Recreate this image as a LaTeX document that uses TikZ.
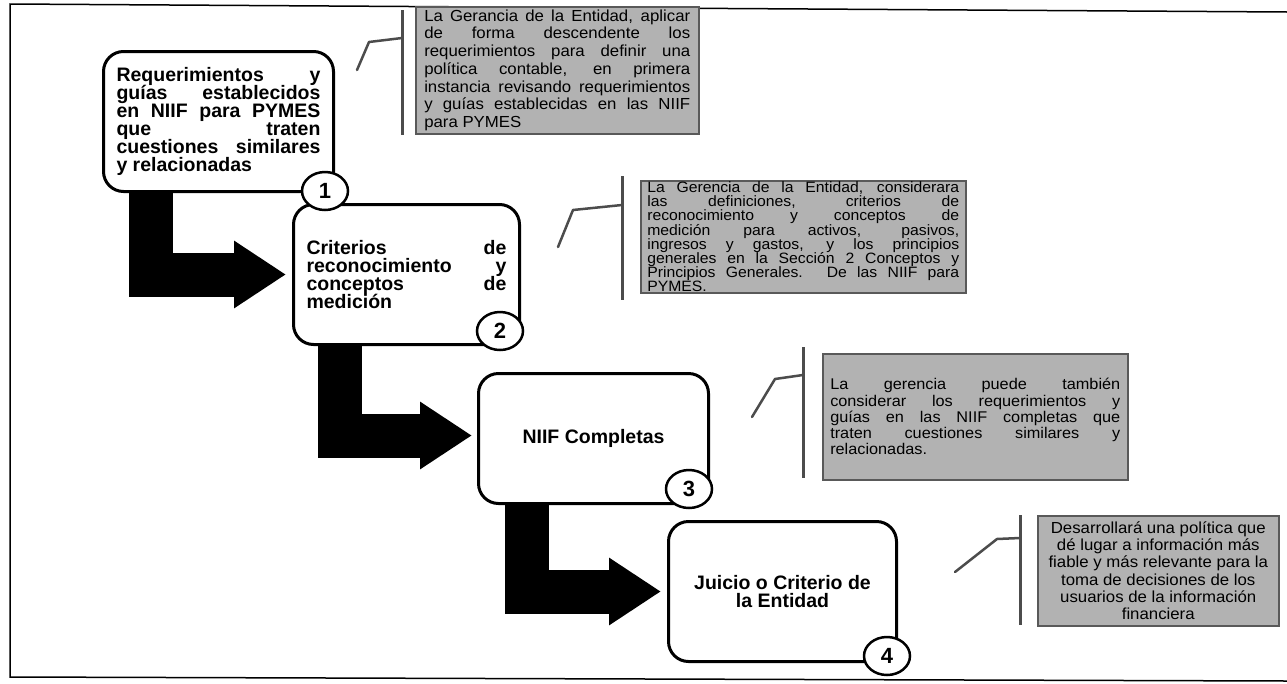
\documentclass[tikz,border=0pt]{standalone}
\usepackage{fontspec}
\setmainfont{Liberation Sans}
\newfontfamily\grayfont[FakeStretch=1.05]{Liberation Sans}
\usetikzlibrary{arrows.meta,calc,shapes.geometric}
\newcommand\jl[1]{\hbox to\hsize{\spaceskip=0.28em plus 1fill\relax #1}}
\newcommand\lft[1]{\hbox to\hsize{#1\hfil}}
\newcommand\ctr[1]{\hbox to\hsize{\hfil #1\hfil}}
\newcommand\blk[2]{\vbox{\hsize=#1\lineskiplimit=-100pt\relax #2}}
\hfuzz=200pt \hbadness=10000 \vbadness=10000
\begin{document}
\begin{tikzpicture}[x=1pt,y=-1pt,
 stepbox/.style={draw, line width=3pt, rounded corners=20pt, fill=white, anchor=north west,
   inner xsep=13pt, inner ysep=0pt, font=\bfseries\fontsize{19.5}{18}\selectfont},
 numc/.style={ellipse, draw, line width=2.5pt, fill=white, minimum width=46pt, minimum height=38pt,
   inner sep=0pt, font=\bfseries\fontsize{22}{22}\selectfont},
 bigarrow/.style={line width=44pt, line join=miter, -{Triangle[length=52pt,width=64pt]}},
 graybox/.style={draw=black!65, line width=1.5pt, fill=black!30, anchor=north west, inner ysep=0pt},
 callout/.style={draw=black!70, line width=2.5pt, line cap=round, line join=round},
 bracket/.style={draw=black!70, line width=3pt},
 frame/.style={line width=1.5pt}]
\useasboundingbox (0,0) rectangle (1287,683);
\draw[frame] (1287,12) -- (10,4) -- (10,677) -- (1287,681);

% main boxes
\node[stepbox, minimum width=230pt, minimum height=140pt] (box1) at (102,50)
 {\blk{204pt}{\jl{Requerimientos y}\jl{guías establecidos}\jl{en NIIF para PYMES}\jl{que traten}\jl{cuestiones similares}\lft{y relacionadas}}};
\node[stepbox, minimum width=226pt, minimum height=140pt] (box2) at (292,203)
 {\blk{200pt}{\jl{Criterios de}\jl{reconocimiento y}\jl{conceptos de}\lft{medición}}};
\node[stepbox, minimum width=230pt, minimum height=130pt] (box3) at (477,372)
 {\blk{204pt}{\ctr{NIIF Completas}}};
\node[stepbox, minimum width=228pt, minimum height=140pt] (box4) at (667,520)
 {\blk{202pt}{\ctr{Juicio o Criterio de}\ctr{la Entidad}}};

% arrows
\draw[bigarrow] ($(box1.south west)+(49,0)$) |- ($(box2.west)+(-6,0)$);
\draw[bigarrow] ($(box2.south west)+(48,0)$) |- ($(box3.west)+(-5,-3)$);
\draw[bigarrow] ($(box3.south west)+(50,0)$) |- ($(box4.west)+(-6,0)$);

% numbers
\node[numc] (c1) at ($(box1.south east)+(-10,-2)$) {1};
\node[numc] (c2) at ($(box2.south east)+(-21,-15)$) {2};
\node[numc] (c3) at ($(box3.south east)+(-21,-16)$) {3};
\node[numc] (c4) at ($(box4.south east)+(-11,-7)$) {4};

% gray notes
\node[graybox, minimum width=283pt, minimum height=127pt, inner xsep=8.5pt,
  font=\grayfont\fontsize{16}{17.7}\selectfont] (n1) at (415,6)
 {\blk{266pt}{\jl{La Gerancia de la Entidad, aplicar}\jl{de forma descendente los}\jl{requerimientos para definir una}\jl{política contable, en primera}\jl{instancia revisando requerimientos}\jl{y guías establecidas en las NIIF}\lft{para PYMES}}};
\node[graybox, minimum width=325pt, minimum height=112pt, inner xsep=6.5pt,
  font=\grayfont\fontsize{15}{14.2}\selectfont] (n2) at (640,180)
 {\blk{312pt}{\jl{La Gerencia de la Entidad, considerara}\jl{las definiciones, criterios de}\jl{reconocimiento y conceptos de}\jl{medición para activos, pasivos,}\jl{ingresos y gastos, y los principios}\jl{generales en la Sección 2 Conceptos y}\jl{Principios Generales. De las NIIF para}\lft{PYMES.}}};
\node[graybox, minimum width=305pt, minimum height=126pt, inner xsep=7.5pt,
  font=\grayfont\fontsize{15.5}{16.2}\selectfont] (n3) at (822,353)
 {\blk{290pt}{\jl{La gerencia puede también}\jl{considerar los requerimientos y}\jl{guías en las NIIF completas que}\jl{traten cuestiones similares y}\lft{relacionadas.}}};
\node[graybox, minimum width=241pt, minimum height=110pt, inner xsep=3pt,
  font=\grayfont\fontsize{16}{17.2}\selectfont] (n4) at (1037,515)
 {\blk{235pt}{\ctr{Desarrollará una política que}\ctr{dé lugar a información más}\ctr{fiable y más relevante para la}\ctr{toma de decisiones de los}\ctr{usuarios de la información}\ctr{financiera}}};

% callout pointers
\coordinate (a1) at (357,70);  \coordinate (b1) at (369,42);  \coordinate (h1) at (402,38);
\coordinate (t1) at (402,10);  \coordinate (u1) at (402,135);
\coordinate (a2) at (558,247); \coordinate (b2) at (573,210); \coordinate (h2) at (622,205);
\coordinate (t2) at (622,176); \coordinate (u2) at (622,300);
\coordinate (a3) at (752,417); \coordinate (b3) at (775,379); \coordinate (h3) at (803,375);
\coordinate (t3) at (803,347); \coordinate (u3) at (803,478);
\coordinate (a4) at (955,572); \coordinate (b4) at (997,539); \coordinate (h4) at (1020,538);
\coordinate (t4) at (1020,515); \coordinate (u4) at (1020,625);
\foreach \i in {1,2,3,4}{
  \draw[callout] (a\i) -- (b\i) -- (h\i);
  \draw[bracket] (t\i) -- (u\i);
}
\end{tikzpicture}
\end{document}
